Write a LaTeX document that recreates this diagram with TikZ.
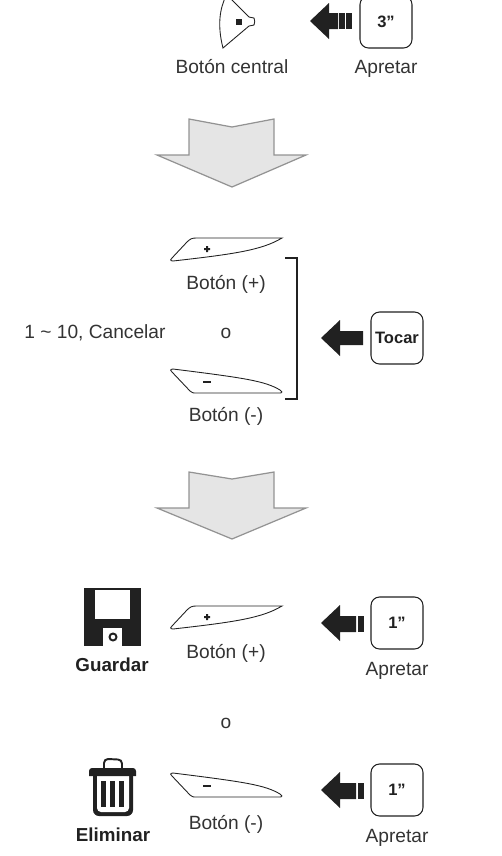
\documentclass[tikz,border=0pt]{standalone}
\usepackage{fontspec}
\setmainfont{Liberation Sans}
\definecolor{inkgray}{gray}{0.2}
\definecolor{iconblack}{gray}{0.13}
\tikzset{
	lbl/.style={text=inkgray,font=\fontsize{10.9pt}{12pt}\selectfont,inner sep=0pt,text height=2.9mm,text depth=0.3mm},
	boldlbl/.style={text=iconblack,font=\fontsize{10.7pt}{12pt}\selectfont\bfseries,inner sep=0pt},
	keybox/.style={draw=iconblack,line width=0.6pt,rounded corners=1.7mm,minimum size=1.04cm,inner sep=0pt,text=iconblack,font=\fontsize{9.4pt}{11pt}\selectfont\bfseries},
	btnline/.style={draw=iconblack,line width=0.5pt},
	bigdown/.style={draw=gray!85,fill=gray!20,line width=0.7pt,line join=miter},
	plusbtn/.pic={
		\draw[btnline] (172,258) -- (187,242) .. controls (190,239) and (192,238) .. (196,238) -- (282,238) .. controls (262,250) and (235,254) .. (173,261) .. controls (170,261) and (170,259) .. (172,258);
		\fill[iconblack] (206,246) rectangle (208,252) (204,248) rectangle (210,250);
	},
	minusbtn/.pic={
		\draw[btnline] (172,372) -- (190,391) .. controls (192,393) and (193,393) .. (197,393) -- (280,393) .. controls (283,393) and (282,391) .. (280,390) .. controls (265,381) and (245,378) .. (173,369) .. controls (170,369) and (170,371) .. (172,372);
		\fill[iconblack] (203,380.5) rectangle (211,383);
	},
	pressarrow/.pic={
		\fill[iconblack] (321,623) -- (340,605) -- (340,616) -- (356,616) -- (356,632) -- (340,632) -- (340,641) -- cycle;
		\fill[iconblack] (358,616) rectangle (364,632);
	},
}
\begin{document}
\begin{tikzpicture}[x=0.02cm,y=-0.02cm]
\useasboundingbox (0,0) rectangle (501,856);
\clip (0,0) rectangle (501,856);
% step 1
\draw[btnline] (226,-4) .. controls (220,8) and (217,25) .. (223,48) -- (249,26) -- (254,25) .. controls (255,23) and (255,20) .. (254,18) -- (249,17) -- (228,-4);
\fill[iconblack] (236,19) rectangle (242,25);
\fill[iconblack] (310,21) -- (329,3) -- (329,13) -- (338,13) -- (338,29) -- (329,29) -- (329,39) -- cycle;
\fill[iconblack] (339,13) rectangle (345,29);
\fill[iconblack] (346,13) rectangle (352,29);
\node[keybox] (hold3) at (386,22) {3”};
\node[lbl] (centerlbl) at (232,67) {Botón central};
\node[lbl] (press3) at (386,67) {Apretar};
\draw[bigdown] (189,119) -- (232,127) -- (274,119) -- (274,155) -- (306,155) -- (232,187) -- (157,155) -- (189,155) -- cycle;
% step 2
\pic at (0,0) {plusbtn};
\pic at (0,0) {minusbtn};
\node[lbl] (pluslbl) at (226,283) {Botón (+)};
\node[lbl] (orlbl) at (226,332) {o};
\node[lbl] (minuslbl) at (226,415) {Botón (-)};
\node[lbl] (rangelbl) at (95,332) {1 \textasciitilde{} 10, Cancelar};
\draw[iconblack,line width=1.1pt] (285,258) -- (297,258) -- (297,399) -- (285,399);
\fill[iconblack] (321,338) -- (340,320) -- (340,331) -- (363,331) -- (363,345) -- (340,345) -- (340,356) -- cycle;
\node[keybox] (tap) at (397,338) {Tocar};
\draw[bigdown] (189,472) -- (232,479) -- (274,472) -- (274,508) -- (306,508) -- (232,539) -- (157,508) -- (189,508) -- cycle;
% step 3
\fill[iconblack] (84,588) rectangle (141,646);
\fill[white] (95,590) rectangle (130,619);
\fill[white] (103,628) rectangle (122,646);
\draw[iconblack,line width=1.1pt] (113,637) circle (3.5);
\node[boldlbl] (savelbl) at (112,665) {Guardar};
\pic at (0,368) {plusbtn};
\node[lbl] (pluslbl2) at (226,652) {Botón (+)};
\pic at (0,0) {pressarrow};
\node[keybox] (hold1a) at (397,623) {1”};
\node[lbl] (press1a) at (397,669) {Apretar};
\node[lbl] (orlbl2) at (226,722) {o};
% trash
\fill[iconblack] (93,776) -- (133,776) -- (133,810) arc (0:90:6) -- (99,816) arc (90:180:6) -- cycle;
\fill[white] (97,776) -- (129,776) -- (129,808) arc (0:90:4) -- (101,812) arc (90:180:4) -- cycle;
\fill[iconblack] (89,773) -- (89,771) arc (180:270:3) -- (133,768) arc (-90:0:3) -- (136,776) -- (89,776) -- cycle;
\draw[iconblack,line width=1.1pt] (104,768) -- (104,763) arc (180:270:4) -- (118,759.5) arc (-90:0:4) -- (122,768);
\fill[iconblack] (101,781) rectangle (106,807);
\fill[iconblack] (110,781) rectangle (115,807);
\fill[iconblack] (119,781) rectangle (124,807);
\node[boldlbl] (dellbl) at (113,835) {Eliminar};
\pic at (0,404) {minusbtn};
\node[lbl] (minuslbl2) at (226,823) {Botón (-)};
\pic at (0,167) {pressarrow};
\node[keybox] (hold1b) at (397,790) {1”};
\node[lbl] (press1b) at (397,836) {Apretar};
\end{tikzpicture}
\end{document}
